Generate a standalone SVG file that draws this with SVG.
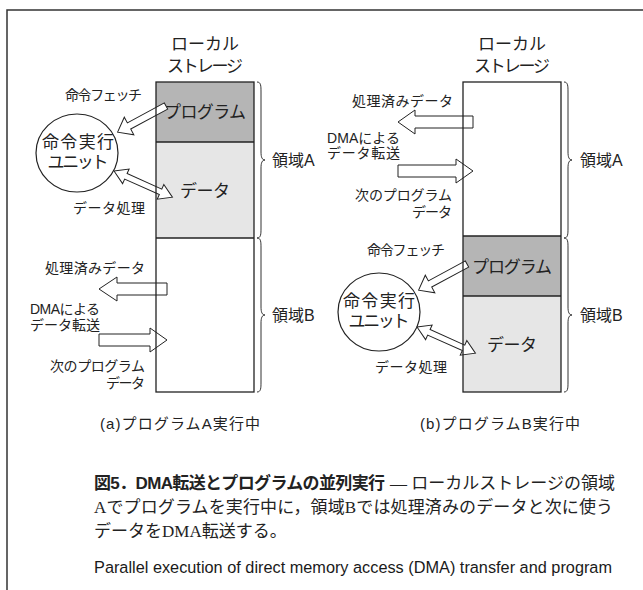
<svg xmlns="http://www.w3.org/2000/svg" xmlns:xlink="http://www.w3.org/1999/xlink" width="643" height="590" viewBox="0 0 643 590">
<style>
.frame{fill:none;stroke:#333;stroke-width:1.5}
.outline{fill:none;stroke:#222;stroke-width:1.3}
.prog{fill:#b5b5b5}
.data{fill:#e6e6e6}
.sep{stroke:#222;stroke-width:1.3}
.arr{fill:#fff;stroke:#222;stroke-width:1}
.unit{fill:#fff;stroke:#222;stroke-width:1.2}
.brace{fill:none;stroke:#333;stroke-width:1}
.t{font-family:"Liberation Sans","Noto Sans CJK JP",sans-serif;fill:#222}
.s14{font-size:14px}
.s15{font-size:15px}
.s16{font-size:16px}
.s17{font-size:17px}
.m{text-anchor:middle}
.e{text-anchor:end}
.cap{font-family:"Liberation Serif","Noto Sans CJK JP",serif;font-size:17px;fill:#222}
.capb{font-family:"Liberation Sans","Noto Sans CJK JP",sans-serif;font-size:17px;font-weight:bold;fill:#222}
.en{font-family:"Liberation Sans",Arial,sans-serif;font-size:16.3px;fill:#1a1a1a}
</style>
<defs>
<polygon id="fetch" class="arr" points="0,-3.5 42,-3.5 42,-10 55,0 42,10 42,3.5 0,3.5"/>
<polygon id="dbl" class="arr" points="0,0 13,-8 13,-3 51,-3 51,-8 64,0 51,8 51,3 13,3 13,8"/>
</defs>
<rect width="643" height="590" fill="#fff"/>
<path class="frame" d="M7,590 L7,10 L643,10"/>

<!-- Panel (a) -->
<g id="storageA">
<text class="t s17 m" x="205" y="50">ローカル</text>
<text class="t s17 m" x="205" y="72" textLength="76">ストレージ</text>
<rect class="prog" x="156" y="82" width="98" height="60"/>
<rect class="data" x="156" y="142" width="98" height="96"/>
<text class="t s17 m" x="205" y="118" textLength="82">プログラム</text>
<text class="t s17 m" x="205" y="197" textLength="50">データ</text>
</g>
<g id="unitA">
<ellipse class="unit" cx="77" cy="153" rx="41" ry="39"/>
<text class="t s17 m" x="78" y="148" textLength="72">命令実行</text>
<text class="t s17 m" x="78" y="168" textLength="61">ユニット</text>
</g>
<g id="labelsA">
<text class="t s14 e" x="142" y="100" textLength="77">命令フェッチ</text>
<text class="t s14 e" x="145" y="213" textLength="72">データ処理</text>
<text class="t s14 e" x="145" y="273" textLength="100">処理済みデータ</text>
<text class="t s14" x="30" y="314" textLength="70">DMAによる</text>
<text class="t s14" x="30" y="330" textLength="70">データ転送</text>
<text class="t s14 e" x="145" y="371" textLength="95">次のプログラム</text>
<text class="t s14 e" x="145" y="388" textLength="39">データ</text>
<text class="t s16" x="272" y="166">領域A</text>
<text class="t s16" x="272" y="321">領域B</text>
<text class="t s15" x="100" y="429" textLength="160">(a)プログラムA実行中</text>
</g>

<!-- Panel (b) -->
<g id="storageB">
<text class="t s17 m" x="512" y="50">ローカル</text>
<text class="t s17 m" x="512" y="72" textLength="76">ストレージ</text>
<rect class="prog" x="463" y="236" width="98" height="60"/>
<rect class="data" x="463" y="296" width="98" height="96"/>
<text class="t s17 m" x="512" y="273" textLength="80">プログラム</text>
<text class="t s17 m" x="512" y="351" textLength="50">データ</text>
</g>
<g id="unitB">
<ellipse class="unit" cx="379" cy="312" rx="41" ry="39"/>
<text class="t s17 m" x="379" y="307" textLength="72">命令実行</text>
<text class="t s17 m" x="379" y="327" textLength="61">ユニット</text>
</g>
<g id="labelsB">
<text class="t s14 e" x="453" y="106" textLength="101">処理済みデータ</text>
<text class="t s14" x="327" y="143" textLength="73">DMAによる</text>
<text class="t s14" x="327" y="158" textLength="73">データ転送</text>
<text class="t s14 e" x="452" y="200" textLength="97">次のプログラム</text>
<text class="t s14 e" x="452" y="217" textLength="40">データ</text>
<text class="t s14 e" x="445" y="255" textLength="78">命令フェッチ</text>
<text class="t s14 e" x="447" y="372" textLength="72">データ処理</text>
<text class="t s16" x="580" y="166">領域A</text>
<text class="t s16" x="580" y="321">領域B</text>
<text class="t s15" x="420" y="429" textLength="160">(b)プログラムB実行中</text>
</g>

<g id="connectors">
<use xlink:href="#fetch" transform="translate(166,106) rotate(151.6)"/>
<use xlink:href="#dbl" transform="translate(114,171) rotate(24.1)"/>
<polygon class="arr" points="167,283 117,283 117,277 99,289 117,301 117,295 167,295"/>
<polygon class="arr" points="99,334 150,334 150,328 167,340 150,352 150,346 99,346"/>
<use xlink:href="#fetch" transform="translate(467,264) rotate(151.6)"/>
<use xlink:href="#dbl" transform="translate(417,327) rotate(24.1)"/>
<polygon class="arr" points="473,116 415,116 415,110 398,122 415,134 415,128 473,128"/>
<polygon class="arr" points="398,165 456,165 456,159 473,171 456,183 456,177 398,177"/>
<path class="brace" d="M257,82 C261,82 261,86 261,92 L261,152 C261,157 262,160 265,160 C262,160 261,163 261,168 L261,228 C261,234 261,238 257,238"/>
<path class="brace" d="M257,238 C261,238 261,242 261,248 L261,307 C261,312 262,315 265,315 C262,315 261,318 261,323 L261,382 C261,388 261,392 257,392"/>
<path class="brace" d="M564,82 C568,82 568,86 568,92 L568,152 C568,157 569,160 572,160 C569,160 568,163 568,168 L568,228 C568,234 568,238 564,238"/>
<path class="brace" d="M564,238 C568,238 568,242 568,248 L568,307 C568,312 569,315 572,315 C569,315 568,318 568,323 L568,382 C568,388 568,392 564,392"/>
</g>

<g id="outlines">
<rect class="outline" x="156" y="82" width="98" height="310"/>
<line class="sep" x1="156" y1="142" x2="254" y2="142"/>
<line class="sep" x1="156" y1="238" x2="254" y2="238"/>
<rect class="outline" x="463" y="82" width="98" height="310"/>
<line class="sep" x1="463" y1="236" x2="561" y2="236"/>
<line class="sep" x1="463" y1="296" x2="561" y2="296"/>
</g>

<g id="caption">
<text class="capb" x="94" y="489" textLength="291">図5．DMA転送とプログラムの並列実行</text>
<text class="cap" x="390" y="489" textLength="225">— ローカルストレージの領域</text>
<text class="cap" x="94" y="513" textLength="519">Aでプログラムを実行中に，領域Bでは処理済みのデータと次に使う</text>
<text class="cap" x="94" y="537">データをDMA転送する。</text>
<text class="en" x="94" y="573" textLength="518">Parallel execution of direct memory access (DMA) transfer and program</text>
</g>
</svg>
